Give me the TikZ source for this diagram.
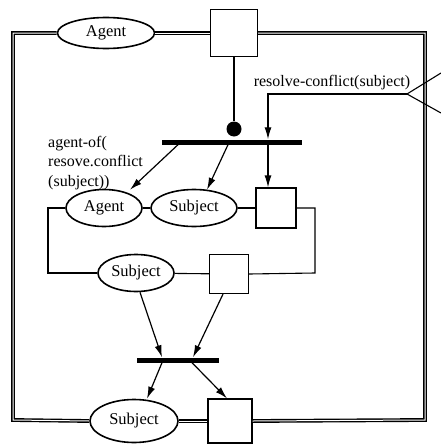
\documentclass[tikz,border=0pt]{standalone}
\usepackage{fontspec}
\setmainfont{Liberation Serif}
\usetikzlibrary{arrows.meta,shapes.geometric}

\tikzset{
  place/.style={ellipse, draw, line width=1.6pt, inner sep=0pt, font=\fontsize{16.5}{18}\selectfont},
  trans/.style={rectangle, draw, line width=1.2pt, inner sep=0pt},
  bar/.style={rectangle, fill=black, inner sep=0pt, minimum height=5pt},
  arc/.style={-{Latex[length=12pt,width=7pt]}, line width=1.2pt},
  frame/.style={double, line width=1.4pt, double distance=1pt},
  wire/.style={line width=1.1pt},
  lbl/.style={font=\fontsize{16}{19.5}\selectfont, inner sep=0pt},
}

\begin{document}
\begin{tikzpicture}[x=1pt,y=-1pt]
  %%%%% START %%%%%
  \useasboundingbox (0,0) rectangle (441,447);

  % top row
  \node[place, minimum width=97pt, minimum height=31pt] (agentTop) at (106,33) {Agent};
  \node[trans, minimum size=47pt] (boxTop) at (234,33) {};
  \node[circle, fill=black, minimum size=15pt, inner sep=0pt] (dot) at (234,129) {};
  \node[bar, minimum width=140pt] (barA) at (232,142) {};

  % middle rows
  \node[place, minimum width=76pt, minimum height=37pt] (agentMid) at (104,208) {Agent};
  \node[place, minimum width=86pt, minimum height=37pt] (subjMid) at (194,208) {Subject};
  \node[trans, minimum size=40pt] (boxMid) at (276,208) {};
  \node[place, minimum width=76pt, minimum height=37pt] (subjLow) at (136,273) {Subject};
  \node[trans, minimum size=39pt] (boxLow) at (229,274) {};
  \node[bar, minimum width=82pt] (barB) at (178,360) {};

  % bottom row
  \node[place, minimum width=88pt, minimum height=43pt] (subjBot) at (134,421) {Subject};
  \node[trans, minimum size=44pt] (boxBot) at (230,421) {};

  % labels
  \node[lbl] (rcLabel) at (332,83) {resolve-conflict(subject)};
  \node[lbl, align=left, anchor=west] (agentOf) at (48,163) {agent-of(\\resove.conflict\\(subject))};

  % outer loop
  \coordinate (nw) at (13,33);
  \coordinate (sw) at (13,420);
  \coordinate (ne) at (425,33);
  \coordinate (se) at (425,420);
  \draw[frame] (agentTop.west) -- (nw) -- (sw) -- (subjBot.west);
  \draw[frame] (agentTop.east) -- (boxTop.west);
  \draw[frame] (boxTop.east) -- (ne) -- (se) -- (boxBot.east);
  \draw[frame] (subjBot.east) -- (boxBot.west);

  % incoming request
  \coordinate (tip) at (407,94);
  \coordinate (bend) at (268,94);
  \draw[wire] (441,73) -- (tip) -- (441,113);
  \draw[arc] (tip) -- (bend) -- ([xshift=36pt]barA.north);
  \draw[arc] ([xshift=36pt]barA.south) -- ([xshift=-8pt]boxMid.north);

  \draw[wire] (boxTop.south) -- (dot);
  \draw[arc] ([xshift=-54pt]barA.south) -- ([xshift=26pt,yshift=-1pt]agentMid.north);
  \draw[arc] ([xshift=-4pt]barA.south) -- ([xshift=13pt,yshift=-1pt]subjMid.north);

  % inner loop
  \draw[wire] (agentMid) -- (subjMid);
  \draw[wire] (subjMid) -- (boxMid);
  \draw[wire] (agentMid.west) -- (48,208) -- (48,273) -- (subjLow.west);
  \draw[wire] (subjLow) -- (boxLow);
  \draw[wire] (boxMid.east) -- (315,208) -- (315,273) -- (boxLow.east);

  \draw[arc] ([xshift=4pt]subjLow.south) -- ([xshift=-16pt]barB.north);
  \draw[arc] ([xshift=-6pt]boxLow.south) -- ([xshift=15pt]barB.north);
  \draw[arc] ([xshift=-16pt]barB.south) -- ([xshift=13pt]subjBot.north);
  \draw[arc] ([xshift=14pt]barB.south) -- ([xshift=-3pt]boxBot.north);
  %%%%% END %%%%%
\end{tikzpicture}
\end{document}
